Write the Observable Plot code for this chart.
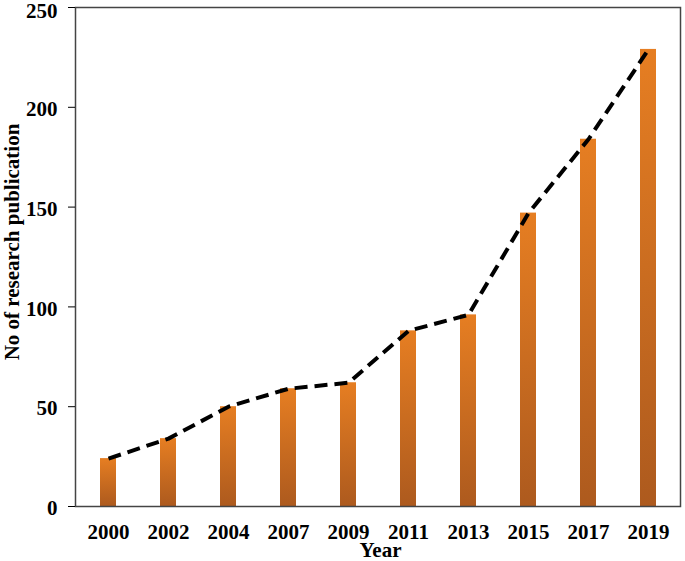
<!DOCTYPE html>
<html><head><meta charset="utf-8">
<script src="https://cdn.jsdelivr.net/npm/d3@7"></script>
<script src="https://cdn.jsdelivr.net/npm/@observablehq/plot@0.6"></script>
<style>body{margin:0;background:#fff} svg{display:block}</style>
</head><body><div id="chart"></div>
<script>
const years = ["2000","2002","2004","2007","2009","2011","2013","2015","2017","2019"];
const publications = [24, 34, 50, 59, 62, 88, 96, 147, 184, 229];
const yTicks = [0, 50, 100, 150, 200, 250];
const data = years.map((y, i) => ({year: y, value: publications[i]}));
const lowTicks = yTicks.slice(0, -1);
const topTick = yTicks.slice(-1);

const chart = Plot.plot({
  width: 685, height: 561,
  marginLeft: 75, marginRight: 5, marginTop: 7, marginBottom: 55,
  style: {fontFamily: "'Liberation Serif', 'Times New Roman', serif", fontWeight: "bold", fontSize: "21px", color: "#000", background: "#fff"},
  x: {type: "band", domain: years, paddingInner: 0.74, paddingOuter: 0.37, label: null},
  y: {domain: [0, 250], ticks: yTicks, label: null},
  marks: [
    Plot.barY(data, {x: "year", y: "value", fill: "url(#barGrad)"}),
    Plot.line(data, {x: "year", y: "value", stroke: "#000", strokeWidth: 4, strokeDasharray: "13,7", strokeLinecap: "butt"}),
    Plot.frame({stroke: "#444", strokeWidth: 1.5}),
    Plot.axisY({ticks: yTicks, tickSize: 7, text: null, label: null}),
    Plot.axisY({ticks: lowTicks, tickSize: 0, tickPadding: 18, fontSize: 21, fontWeight: "bold", label: null, dy: 2}),
    Plot.axisY({ticks: topTick, tickSize: 0, tickPadding: 18, fontSize: 21, fontWeight: "bold", label: null, dy: 4}),
    Plot.axisX({tickSize: 0, tickPadding: 18, fontSize: 21, fontWeight: "bold", label: null}),
    Plot.text(["Year"], {frameAnchor: "bottom", lineAnchor: "middle", textAnchor: "middle", dy: 44, dx: 2.5, fontSize: 21, fontWeight: "bold"}),
    Plot.text(["No of research publication"], {frameAnchor: "left", textAnchor: "middle", lineAnchor: "middle", dx: -63, dy: -15, rotate: -90, fontSize: 21, fontWeight: "bold"})
  ]
});
const svg = d3.select(chart);
const defs = svg.insert("defs", ":first-child");
const g = defs.append("linearGradient").attr("id", "barGrad").attr("x1", 0).attr("y1", 0).attr("x2", 0).attr("y2", 1);
g.append("stop").attr("offset", "0%").attr("stop-color", "#E67E22");
g.append("stop").attr("offset", "100%").attr("stop-color", "#AD5A1E");
svg.selectAll("text").style("font-weight", "bold");
document.getElementById("chart").appendChild(chart);
</script>
</body></html>
